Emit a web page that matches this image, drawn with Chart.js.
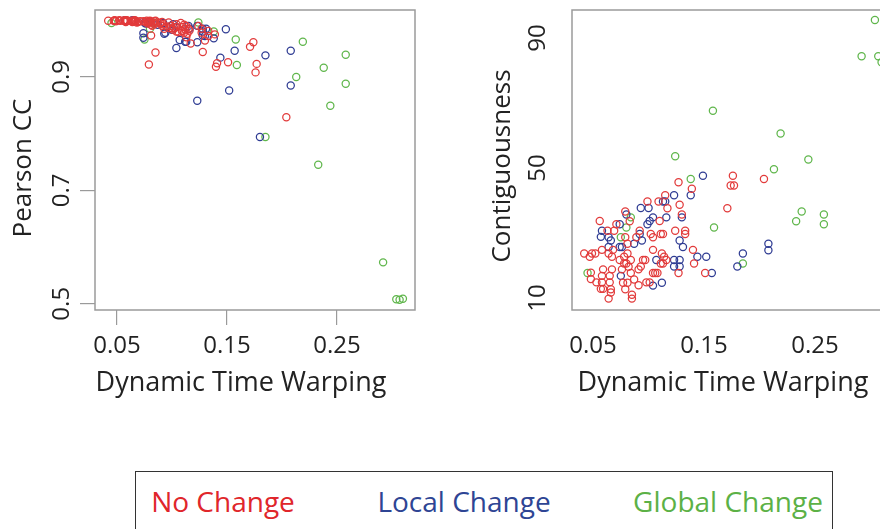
<!DOCTYPE html>
<html>
<head>
<meta charset="utf-8">
<script src="https://cdn.jsdelivr.net/npm/chart.js@4.4.1/dist/chart.umd.min.js"></script>
<style>
  body { margin: 0; width: 880px; height: 529px; overflow: hidden; background: #fff; font-family: 'Open Sans', sans-serif; }
  .panel { position: absolute; top: 0; height: 400px; }
  #leftPanel { left: 0; width: 440px; }
  #rightPanel { left: 440px; width: 480px; }
  .legend-box { position: absolute; left: 135px; top: 471px; width: 696px; height: 80px; border: 1.5px solid #333; }
  .legend-item { position: absolute; top: 487px; font-size: 28px; line-height: 28px; white-space: nowrap; transform: translateX(-50%); }
</style>
</head>
<body>
<div class="panel" id="leftPanel"><canvas id="pearsonChart"></canvas></div>
<div class="panel" id="rightPanel"><canvas id="contigChart"></canvas></div>
<div class="legend-box"></div>

<script>
// tick values
const dtwTicks = [0.05, 0.15, 0.25];
const pearsonTicks = [0.5, 0.7, 0.9];
const contigTicks = [10, 50, 90];

// No Change (red)
const noDtw = [0.176, 0.174, 0.177, 0.204, 0.127, 0.139, 0.115, 0.099, 0.109, 0.117, 0.128, 0.171, 0.079, 0.130, 0.083,
  0.110, 0.056, 0.071, 0.063, 0.069, 0.092, 0.102, 0.111, 0.113, 0.124, 0.133, 0.133, 0.079, 0.081, 0.089,
  0.104, 0.042, 0.049, 0.052, 0.047, 0.058, 0.064, 0.067, 0.068, 0.074, 0.081, 0.078, 0.080, 0.078, 0.084,
  0.082, 0.104, 0.112, 0.114, 0.111, 0.113, 0.116, 0.095, 0.097, 0.093, 0.091, 0.084, 0.140, 0.141, 0.127,
  0.151, 0.104, 0.106, 0.108, 0.101, 0.091, 0.087, 0.077, 0.081, 0.079, 0.085, 0.085, 0.067, 0.059, 0.048,
  0.048, 0.058, 0.053, 0.058, 0.057, 0.059, 0.065, 0.065, 0.066, 0.066, 0.064, 0.076, 0.098];
const noPearson = [0.908, 0.961, 0.923, 0.829, 0.978, 0.975, 0.985, 0.990, 0.981, 0.959, 0.944, 0.953, 0.922, 0.964, 0.996,
  0.988, 0.999, 0.998, 0.999, 0.997, 0.993, 0.986, 0.978, 0.990, 0.990, 0.981, 0.972, 0.998, 0.973, 0.995,
  0.993, 0.999, 0.998, 1.000, 0.999, 0.998, 0.997, 0.999, 0.996, 0.998, 0.992, 0.997, 0.999, 0.994, 0.998,
  0.990, 0.980, 0.984, 0.976, 0.992, 0.970, 0.982, 0.989, 0.996, 0.985, 0.997, 0.993, 0.918, 0.924, 0.985,
  0.926, 0.988, 0.979, 0.995, 0.983, 0.990, 0.996, 0.999, 0.996, 0.998, 0.943, 0.999, 0.998, 1.000, 0.999,
  1.000, 0.999, 0.999, 0.997, 1.000, 0.999, 0.999, 0.998, 1.000, 0.999, 0.998, 0.997, 0.986];
const noContig = [47.6, 44.6, 44.6, 46.6, 45.6, 43.6, 41.6, 39.7, 39.7, 37.6, 38.7, 37.6, 36.6, 35.7, 33.6,
  33.7, 33.7, 32.7, 30.7, 30.7, 30.7, 29.7, 29.7, 29.7, 30.7, 30.7, 29.7, 28.7, 26.7, 28.7,
  28.7, 23.7, 23.7, 23.7, 22.7, 24.8, 23.7, 22.7, 24.8, 21.7, 23.7, 22.7, 20.6, 20.6, 21.7,
  19.6, 24.8, 23.7, 22.7, 20.6, 20.6, 21.7, 21.7, 21.7, 19.7, 18.8, 17.7, 24.8, 20.6, 17.7,
  17.7, 17.7, 17.7, 17.7, 14.8, 13.9, 15.7, 14.7, 14.7, 12.7, 11.0, 9.8, 18.8, 18.8, 17.8,
  15.8, 16.8, 14.8, 14.8, 12.8, 12.8, 16.8, 14.8, 12.7, 11.7, 9.8, 18.8, 14.8];

// Local Change (blue)
const localDtw = [0.149, 0.138, 0.123, 0.113, 0.115, 0.093, 0.100, 0.080, 0.116, 0.104, 0.101, 0.099, 0.130, 0.074,
  0.058, 0.057, 0.064, 0.066, 0.094, 0.092, 0.087, 0.128, 0.131, 0.064, 0.074, 0.076, 0.144, 0.152,
  0.107, 0.123, 0.128, 0.123, 0.128, 0.185, 0.180, 0.208, 0.208, 0.157, 0.075, 0.112, 0.104];
const localPearson = [0.984, 0.968, 0.961, 0.962, 0.990, 0.976, 0.983, 0.998, 0.985, 0.951, 0.993, 0.990, 0.972, 0.977,
  0.999, 1.000, 0.998, 0.999, 0.978, 0.995, 0.992, 0.985, 0.985, 1.000, 0.969, 0.994, 0.934, 0.876,
  0.965, 0.858, 0.973, 0.990, 0.980, 0.938, 0.794, 0.946, 0.885, 0.946, 0.996, 0.962, 0.988];
const localContig = [47.6, 41.6, 41.6, 39.7, 39.7, 37.7, 37.7, 35.7, 34.8, 34.8, 33.7, 32.7, 34.8, 32.7,
  30.7, 28.8, 28.7, 27.7, 27.7, 29.7, 26.7, 27.7, 25.7, 25.7, 25.7, 25.7, 22.7, 22.7,
  21.7, 21.7, 21.7, 19.7, 19.7, 23.7, 19.7, 26.7, 24.7, 17.7, 16.8, 14.7, 13.8];

// Global Change (green)
const globalDtw = [0.045, 0.075, 0.084, 0.080, 0.124, 0.138, 0.158, 0.159, 0.185, 0.213,
  0.219, 0.233, 0.238, 0.244, 0.258, 0.258, 0.292, 0.304, 0.307, 0.310];
const globalPearson = [0.995, 0.966, 0.995, 0.985, 0.996, 0.980, 0.966, 0.921, 0.794, 0.900,
  0.962, 0.745, 0.916, 0.849, 0.939, 0.888, 0.573, 0.508, 0.507, 0.509];
const globalContig = [17.7, 28.7, 34.8, 31.7, 53.6, 46.6, 67.6, 31.7, 20.6, 49.6,
  60.6, 33.6, 36.6, 52.6, 35.7, 32.7, 84.4, 95.5, 84.4, 82.5];

const seriesNames = ['No Change', 'Local Change', 'Global Change'];
const pointColors = ['#E23B3B', '#2F3C93', '#5FB64B'];
const textColors = ['#E0262B', '#2E4594', '#5CB146'];
const FONT = "'Open Sans', sans-serif";

function pairs(xs, ys) {
  return xs.map((x, i) => ({ x: x, y: ys[i] }));
}

// draws the box frame, rotated y tick labels and both axis titles
const rFrame = {
  id: 'rFrame',
  afterDraw(chart, args, opts) {
    const ctx = chart.ctx;
    const a = chart.chartArea;
    ctx.save();
    ctx.strokeStyle = '#9a9a9a';
    ctx.lineWidth = 1.5;
    ctx.strokeRect(a.left, a.top, a.right - a.left, a.bottom - a.top);

    ctx.fillStyle = '#222';
    ctx.textAlign = 'center';
    ctx.textBaseline = 'middle';
    ctx.font = '24px ' + FONT;
    const ys = chart.scales.y;
    ys.ticks.forEach(t => {
      ctx.save();
      ctx.translate(opts.yTickX, ys.getPixelForValue(t.value));
      ctx.rotate(-Math.PI / 2);
      ctx.fillText(opts.yFormat(t.value), 0, 0);
      ctx.restore();
    });

    ctx.font = '27px ' + FONT;
    ctx.fillText(opts.xTitle, opts.xTitleX, opts.xTitleY);
    ctx.font = '26px ' + FONT;
    ctx.translate(opts.yTitleX, opts.yTitleY);
    ctx.rotate(-Math.PI / 2);
    ctx.fillText(opts.yTitle, 0, 0);
    ctx.restore();
  }
};

function makeChart(id, yData, cfg) {
  const ctx = document.getElementById(id).getContext('2d');
  const datasets = [
    { label: seriesNames[0], data: pairs(noDtw, yData[0]) },
    { label: seriesNames[1], data: pairs(localDtw, yData[1]) },
    { label: seriesNames[2], data: pairs(globalDtw, yData[2]) }
  ].map((ds, i) => Object.assign(ds, {
    borderColor: pointColors[i],
    backgroundColor: 'rgba(0,0,0,0)',
    pointRadius: 3.6,
    pointBorderWidth: 1.25,
    pointHoverRadius: 3.6
  }));

  return new Chart(ctx, {
    type: 'scatter',
    data: { datasets: datasets },
    plugins: [rFrame],
    options: {
      responsive: true,
      maintainAspectRatio: false,
      animation: false,
      events: [],
      layout: { padding: { top: 10, right: cfg.padRight, left: 0, bottom: 0 } },
      scales: {
        x: {
          type: 'linear',
          min: cfg.xMin,
          max: cfg.xMax,
          afterBuildTicks: s => { s.ticks = dtwTicks.map(v => ({ value: v })); },
          afterFit: s => { s.height = 90; },
          border: { display: false },
          grid: { drawOnChartArea: false, display: cfg.tickMarks, tickLength: 15, color: '#9a9a9a', lineWidth: 1.2 },
          ticks: {
            autoSkip: false,
            maxRotation: 0,
            padding: 7,
            color: '#222',
            font: { family: FONT, size: 24 },
            callback: v => v.toFixed(2)
          }
        },
        y: {
          type: 'linear',
          min: cfg.yMin,
          max: cfg.yMax,
          afterBuildTicks: s => { s.ticks = cfg.yTicks.map(v => ({ value: v })); },
          afterFit: s => { s.width = cfg.yWidth; },
          border: { display: false },
          grid: { drawOnChartArea: false, display: cfg.tickMarks, tickLength: 15, color: '#9a9a9a', lineWidth: 1.2 },
          ticks: { display: false }
        }
      },
      plugins: {
        legend: { display: false },
        tooltip: { enabled: false },
        rFrame: cfg.labels
      }
    }
  });
}

makeChart('pearsonChart', [noPearson, localPearson, globalPearson], {
  xMin: 0.03, xMax: 0.321, yMin: 0.489, yMax: 1.018,
  yTicks: pearsonTicks, yWidth: 95, padRight: 25, tickMarks: true,
  labels: {
    yTickX: 62, yFormat: v => v.toFixed(1),
    xTitle: 'Dynamic Time Warping', xTitleX: 241, xTitleY: 383,
    yTitle: 'Pearson CC', yTitleX: 24, yTitleY: 168
  }
});

makeChart('contigChart', [noContig, localContig, globalContig], {
  xMin: 0.031, xMax: 0.323, yMin: 6.3, yMax: 98.6,
  yTicks: contigTicks, yWidth: 132, padRight: 24, tickMarks: false,
  labels: {
    yTickX: 98, yFormat: v => String(v),
    xTitle: 'Dynamic Time Warping', xTitleX: 723 - 440, xTitleY: 383,
    yTitle: 'Contiguousness', yTitleX: 63, yTitleY: 166
  }
});

// legend row under both panels
const legendCenters = [223, 464, 728];
seriesNames.forEach((name, i) => {
  const item = document.createElement('div');
  item.className = 'legend-item';
  item.textContent = name;
  item.style.left = legendCenters[i] + 'px';
  item.style.color = textColors[i];
  document.body.appendChild(item);
});
</script>
</body>
</html>
